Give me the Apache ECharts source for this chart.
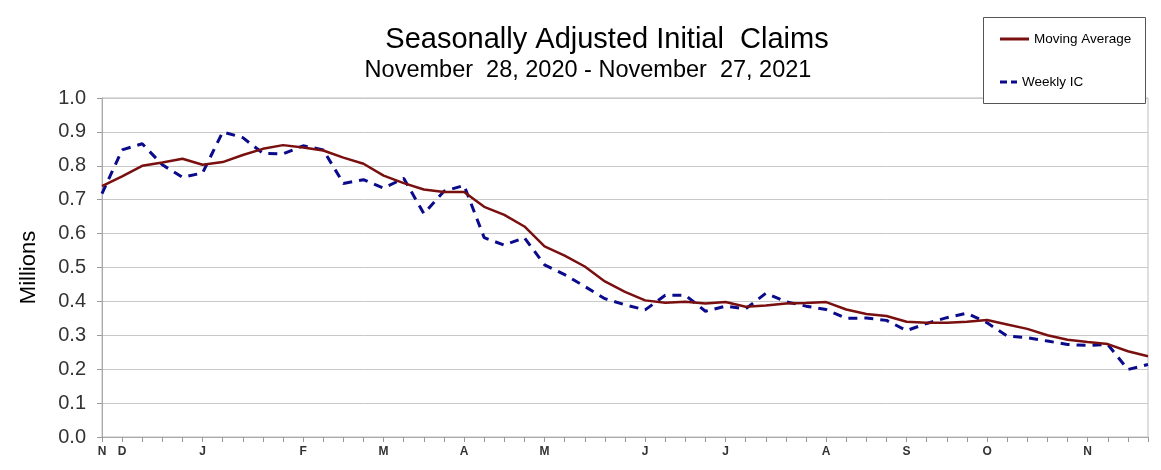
<!DOCTYPE html>
<html>
<head>
<meta charset="utf-8">
<script src="https://cdn.jsdelivr.net/npm/echarts@6/dist/echarts.min.js"></script>
<style>
html,body{margin:0;padding:0;background:#fff;}
#chart{width:1161px;height:470px;}
</style>
</head>
<body>
<div id="chart"></div>
<script>
// Week-ending dates, Nov 28, 2020 - Nov 27, 2021
var weeks = ['2020-11-28','2020-12-05','2020-12-12','2020-12-19','2020-12-26',
  '2021-01-02','2021-01-09','2021-01-16','2021-01-23','2021-01-30',
  '2021-02-06','2021-02-13','2021-02-20','2021-02-27',
  '2021-03-06','2021-03-13','2021-03-20','2021-03-27',
  '2021-04-03','2021-04-10','2021-04-17','2021-04-24',
  '2021-05-01','2021-05-08','2021-05-15','2021-05-22','2021-05-29',
  '2021-06-05','2021-06-12','2021-06-19','2021-06-26',
  '2021-07-03','2021-07-10','2021-07-17','2021-07-24','2021-07-31',
  '2021-08-07','2021-08-14','2021-08-21','2021-08-28',
  '2021-09-04','2021-09-11','2021-09-18','2021-09-25',
  '2021-10-02','2021-10-09','2021-10-16','2021-10-23','2021-10-30',
  '2021-11-06','2021-11-13','2021-11-20','2021-11-27'];

// Month letters shown under the first week of each month
var tickLabels = ['N','D','','','',
  'J','','','','',
  'F','','','',
  'M','','','',
  'A','','','',
  'M','','','','',
  'J','','','',
  'J','','','','',
  'A','','','',
  'S','','','',
  'O','','','','',
  'N','','',''];

// Millions
var movingAverage = [0.740,0.769,0.800,0.810,0.821,0.803,0.811,0.832,0.850,0.861,0.854,0.845,0.824,0.806,
  0.771,0.749,0.730,0.723,0.723,0.679,0.655,0.621,0.562,0.535,0.503,0.459,0.428,0.403,
  0.396,0.399,0.394,0.398,0.384,0.388,0.394,0.395,0.398,0.376,0.363,0.357,0.340,
  0.337,0.337,0.340,0.345,0.332,0.319,0.300,0.287,0.280,0.274,0.253,0.238];

var weeklyIC = [0.718,0.847,0.865,0.803,0.766,0.779,0.900,0.883,0.837,0.835,0.859,0.847,0.748,0.759,
  0.734,0.763,0.659,0.725,0.742,0.588,0.566,0.588,0.508,0.479,0.444,0.408,0.390,0.375,
  0.418,0.418,0.371,0.386,0.378,0.424,0.399,0.386,0.376,0.350,0.351,0.344,0.314,
  0.335,0.352,0.365,0.337,0.298,0.293,0.283,0.273,0.270,0.273,0.199,0.214];

var FONT = "'Liberation Sans', Arial, sans-serif";
var chart = echarts.init(document.getElementById('chart'));
chart.setOption({
  animation: false,
  textStyle: {fontFamily: FONT},
  title: [
    {text: 'Seasonally Adjusted Initial  Claims', left: 602, top: 20, textAlign: 'center',
     textStyle: {fontFamily: FONT, fontSize: 29, fontWeight: 'normal', color: '#000'}},
    {text: 'November  28, 2020 - November  27, 2021', left: 583, top: 54, textAlign: 'center',
     textStyle: {fontFamily: FONT, fontSize: 23.5, fontWeight: 'normal', color: '#000'}}
  ],
  graphic: [
    {type: 'rect', left: 983, top: 17, shape: {width: 162, height: 86},
     style: {fill: '#fff', stroke: '#555', lineWidth: 1}, z: 10}
  ],
  legend: [
    {left: 1000, top: 32, padding: 0, itemWidth: 29, itemHeight: 3, itemTextGap: 1,
     textStyle: {fontFamily: FONT, fontSize: 13.5, color: '#000'}, z: 20,
     data: [{name: 'Moving Average', icon: 'path://M0,0H29V3H0Z'}]},
    {left: 1000, top: 75, padding: 0, itemWidth: 17, itemHeight: 3, itemTextGap: 1,
     textStyle: {fontFamily: FONT, fontSize: 13.5, color: '#000'}, z: 20,
     data: [{name: 'Weekly IC', icon: 'path://M0,0H7V3H0Z M11,0H17V3H11Z'}]}
  ],
  grid: {left: 102, right: 13, top: 98, bottom: 33, show: true, borderColor: '#bdbdbd', borderWidth: 1},
  xAxis: {
    type: 'category', data: weeks, boundaryGap: false,
    axisLine: {lineStyle: {color: '#aaa', width: 1}},
    axisTick: {show: true, interval: 0, length: 5, lineStyle: {color: '#999'}},
    axisLabel: {interval: 0, margin: 9, fontSize: 12, fontWeight: 'bold', color: '#333', fontFamily: FONT,
      formatter: function (v, i) { return tickLabels[i]; }},
    splitLine: {show: false}
  },
  yAxis: {
    type: 'value', min: 0, max: 1, interval: 0.1,
    name: 'Millions', nameLocation: 'middle', nameGap: 62, nameRotate: 90,
    nameTextStyle: {fontFamily: FONT, fontSize: 22, color: '#000'},
    axisLine: {show: true, lineStyle: {color: '#aaa'}},
    axisTick: {show: true, length: 5, lineStyle: {color: '#999'}},
    axisLabel: {fontSize: 20, color: '#333', margin: 16, fontFamily: FONT,
      formatter: function (v) { return v.toFixed(1); }},
    splitLine: {lineStyle: {color: '#c8c8c8', width: 1}}
  },
  series: [
    {name: 'Moving Average', type: 'line', data: movingAverage, symbol: 'none', smooth: false,
     lineStyle: {color: '#7a0f0f', width: 2.5}, itemStyle: {color: '#7a0f0f'}, z: 3},
    {name: 'Weekly IC', type: 'line', data: weeklyIC, symbol: 'none', smooth: false,
     lineStyle: {color: '#0a0a8c', width: 3, type: [9, 7]}, itemStyle: {color: '#0a0a8c'}, z: 2}
  ]
});
</script>
</body>
</html>
